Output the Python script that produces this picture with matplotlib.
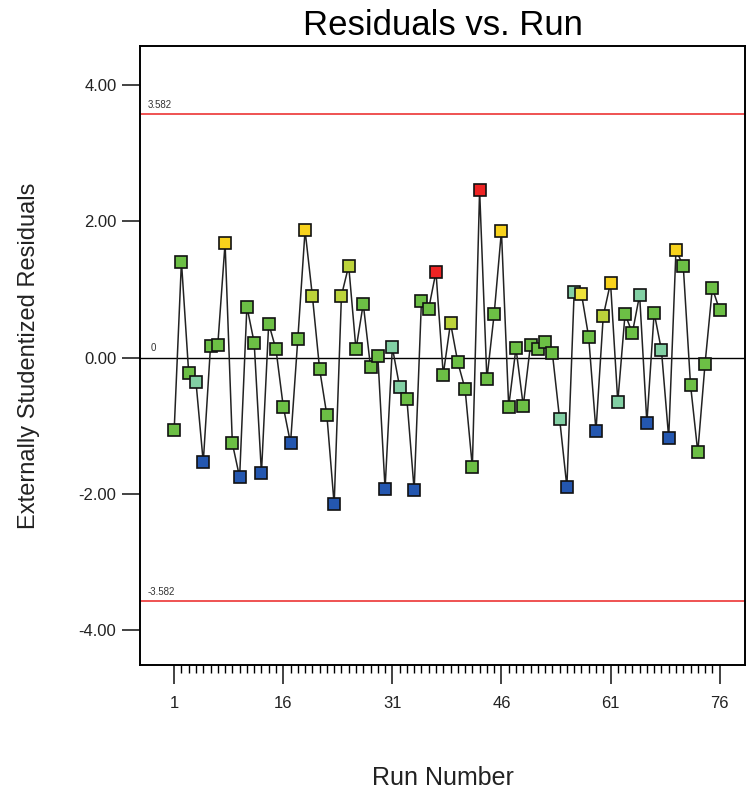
import matplotlib
matplotlib.use("Agg")
import matplotlib.pyplot as plt
from matplotlib.ticker import FixedLocator

plt.rcParams['font.family'] = ['Liberation Sans', 'DejaVu Sans']

# externally studentized residuals, one per run
runs = list(range(1, 77))
residuals = [
    -1.07, 1.41, -0.23, -0.36, -1.54, 0.17, 0.19, 1.68, -1.26, -1.76,
    0.75, 0.22, -1.70, 0.50, 0.12, -0.72, -1.26, 0.27, 1.87, 0.91,
    -0.17, -0.85, -2.16, 0.91, 1.35, 0.12, 0.79, -0.14, 0.03, -1.93,
    0.15, -0.43, -0.61, -1.95, 0.83, 0.72, 1.26, -0.25, 0.51, -0.07,
    -0.46, -1.61, 2.46, -0.32, 0.64, 1.86, -0.72, 0.14, -0.71, 0.19,
    0.13, 0.23, 0.07, -0.90, -1.90, 0.96, 0.94, 0.30, -1.08, 0.61,
    1.10, -0.65, 0.64, 0.36, 0.92, -0.96, 0.66, 0.11, -1.18, 1.58,
    1.35, -0.40, -1.39, -0.09, 1.02, 0.70,
]
# colour group of each point (b=blue, t=teal, g=green, yg=yellow-green, y=yellow, r=red)
groups = [
    'g', 'g', 'g', 't', 'b', 'g', 'g', 'y', 'g', 'b',
    'g', 'g', 'b', 'g', 'g', 'g', 'b', 'g', 'y', 'yg',
    'g', 'g', 'b', 'yg', 'yg', 'g', 'g', 'g', 'g', 'b',
    't', 't', 'g', 'b', 'g', 'g', 'r', 'g', 'yg', 'g',
    'g', 'g', 'r', 'g', 'g', 'y', 'g', 'g', 'g', 'g',
    'g', 'g', 'g', 't', 'b', 't', 'y2', 'g', 'b', 'yg',
    'y', 't', 'g', 'g', 't', 'b', 'g', 't', 'b', 'y',
    'g', 'g', 'g', 'g', 'g', 'g',
]
palette = {
    'b': '#2457b0', 't': '#82d0a4', 'g': '#6cbf45', 'yg': '#bcd33a',
    'y': '#f8d21c', 'y2': '#eee23a', 'r': '#ee2424',
}
limit = 3.582
x_ticks = [1, 16, 31, 46, 61, 76]
y_ticks = [4, 2, 0, -2, -4]
y_tick_labels = ['4.00', '2.00', '0.00', '-2.00', '-4.00']

fig = plt.figure(figsize=(7.47, 7.97), dpi=100)
ax = fig.add_axes([0.1874, 0.1656, 0.81, 0.7767])

# control limits and centre line
ax.axhline(limit, color='#ee4444', lw=1.3, zorder=1)
ax.axhline(-limit, color='#ee4444', lw=1.3, zorder=1)
ax.axhline(0, color='black', lw=1.0, zorder=1)
ax.text(-2.6, limit + 0.09, f'{limit:.3f}', fontsize=7, color='#333333')
ax.text(-2.6, -limit + 0.09, f'-{limit:.3f}', fontsize=7, color='#333333')
ax.text(-2.3, 0.09, '0', fontsize=7, color='#333333')

ax.plot(runs, residuals, color='#222222', lw=1.1, zorder=2)
for r, v, g in zip(runs, residuals, groups):
    ax.plot(r, v, 's', ms=9, mfc=palette[g], mec='#111111', mew=1.2, zorder=3)

ax.set_xlim(-3.7, 79.5)
ax.set_ylim(-4.52, 4.58)

ax.xaxis.set_major_locator(FixedLocator(x_ticks))
ax.xaxis.set_minor_locator(FixedLocator(runs))
ax.set_xticklabels([str(t) for t in x_ticks])
ax.set_yticks(y_ticks)
ax.set_yticklabels(y_tick_labels)
ax.tick_params(axis='x', which='major', direction='out', length=14, width=1.2,
               labelsize=12, pad=8, colors='#222222')
ax.tick_params(axis='x', which='minor', direction='out', length=6, width=1.0)
ax.tick_params(axis='y', direction='out', length=13, width=1.2, labelsize=12,
               pad=4, colors='#222222')
for s in ax.spines.values():
    s.set_linewidth(1.4)

ax.set_title('Residuals vs. Run', fontsize=25, pad=8)
ax.set_xlabel('Run Number', fontsize=18, labelpad=40, color='#222222')
ax.set_ylabel('Externally Studentized Residuals', fontsize=17, labelpad=28,
              color='#222222')

fig.savefig('out.png', dpi=100)
